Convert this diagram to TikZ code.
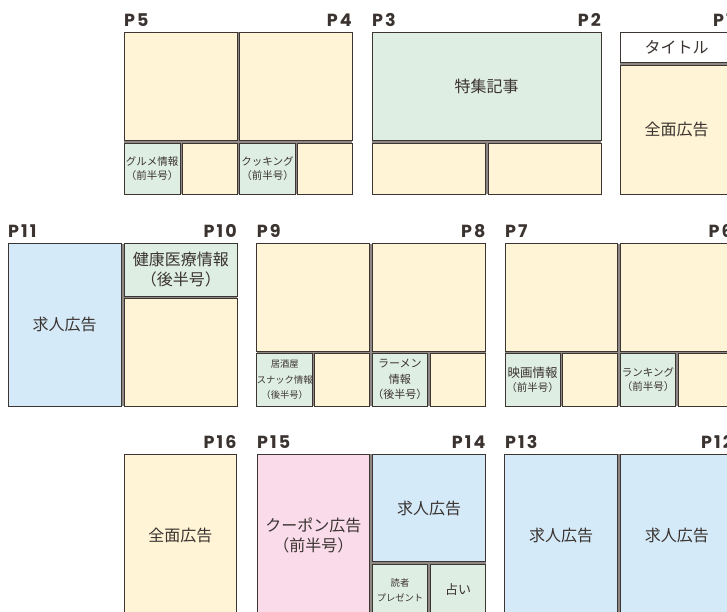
\documentclass[tikz,border=0pt]{standalone}
\usepackage{fontspec}
\setmainfont{Noto Sans CJK JP}
\newfontfamily\pagefont{Poppins}[Numbers=Monospaced, LetterSpace=12]
\usetikzlibrary{positioning}

\definecolor{ink}{HTML}{3A3330}
\definecolor{edge}{HTML}{3C3532}
\definecolor{gapgray}{HTML}{8E8885}
\definecolor{cream}{HTML}{FFF4D6}
\definecolor{mint}{HTML}{DFEEE2}
\definecolor{sky}{HTML}{D4EAF8}
\definecolor{blush}{HTML}{F9DBEA}

\tikzset{
  box/.style={draw=edge, line width=0.8pt, anchor=north west, inner sep=0pt,
    outer sep=0pt, align=center, text=ink},
  big/.style={font=\fontsize{16}{20}\selectfont},
  small/.style={font=\fontsize{10.5}{13.5}\selectfont},
  pagelabel/.style={font=\pagefont\bfseries\fontsize{17.5}{18}\selectfont,
    text=ink, inner sep=0pt},
}

\begin{document}
\begin{tikzpicture}[x=1pt, y=-1pt]
    \useasboundingbox (0,0) rectangle (727,612);
    \clip (0,0) rectangle (727,612);

    % gaps between the boxes of a spread
    \fill[gapgray] (124,32) rectangle (352,194);
    \fill[gapgray] (372,32) rectangle (601,194);
    \fill[gapgray] (620,32) rectangle (733,194);
    \fill[gapgray] (8,243.5) rectangle (237,406);
    \fill[gapgray] (256.7,243.5) rectangle (485.7,406);
    \fill[gapgray] (505,243.5) rectangle (733,406);
    \fill[gapgray] (257,454.3) rectangle (485.7,616);
    \fill[gapgray] (504.7,454.3) rectangle (733,616);

    % first row: P5 to P1
    \node[box, fill=cream, minimum width=113pt, minimum height=108pt] (p5top) at (124,32) {};
    \node[box, fill=mint, small, minimum width=56pt, minimum height=51pt] (p5gourmet) at (124,143) {グルメ情報\\（前半号）};
    \node[box, fill=cream, minimum width=55pt, minimum height=51pt] (p5ad) at (182,143) {};

    \node[box, fill=cream, minimum width=112.5pt, minimum height=108pt] (p4top) at (239.5,32) {};
    \node[box, fill=mint, small, minimum width=56pt, minimum height=51pt] (p4cooking) at (239.5,143) {クッキング\\（前半号）};
    \node[box, fill=cream, minimum width=54.5pt, minimum height=51pt] (p4ad) at (297.5,143) {};

    \node[box, fill=mint, big, minimum width=229pt, minimum height=108pt] (p3feature) at (372,32) {特集記事};
    \node[box, fill=cream, minimum width=113pt, minimum height=51pt] (p3ad) at (372,143) {};
    \node[box, fill=cream, minimum width=113pt, minimum height=51pt] (p2ad) at (488,143) {};

    \node[box, fill=white, big, minimum width=113pt, minimum height=30pt] (p1title) at (620,32) {タイトル};
    \node[box, fill=cream, big, minimum width=113pt, minimum height=129pt] (p1ad) at (620,65) {全面広告};

    % second row: P11 to P6
    \node[box, fill=sky, big, minimum width=113pt, minimum height=162.5pt] (p11jobs) at (8,243.5) {求人広告};
    \node[box, fill=mint, big, minimum width=112.5pt, minimum height=52.5pt] (p10health) at (124.5,243.5) {健康医療情報\\（後半号）};
    \node[box, fill=cream, minimum width=112.5pt, minimum height=108pt] (p10ad) at (124.5,298) {};

    \node[box, fill=cream, minimum width=113pt, minimum height=107.5pt] (p9top) at (256.7,243.5) {};
    \node[box, fill=mint, font=\fontsize{9.3}{15.5}\selectfont, minimum width=56pt, minimum height=52.5pt] (p9bar) at (256.7,353.5) {居酒屋\\スナック情報\\（後半号）};
    \node[box, fill=cream, minimum width=55.4pt, minimum height=52.5pt] (p9ad) at (314.3,353.5) {};

    \node[box, fill=cream, minimum width=113.4pt, minimum height=107.5pt] (p8top) at (372.3,243.5) {};
    \node[box, fill=mint, font=\fontsize{11}{15.5}\selectfont, minimum width=54.7pt, minimum height=52.5pt] (p8ramen) at (372.3,353.5) {ラーメン\\情報\\（後半号）};
    \node[box, fill=cream, minimum width=55.7pt, minimum height=52.5pt] (p8ad) at (430,353.5) {};

    \node[box, fill=cream, minimum width=112.7pt, minimum height=107.5pt] (p7top) at (505,243.5) {};
    \node[box, fill=mint, small, minimum width=55.3pt, minimum height=52.5pt] (p7movie) at (505,353.5) {{\fontsize{12.5}{14}\selectfont 映画情報}\\（前半号）};
    \node[box, fill=cream, minimum width=55.4pt, minimum height=52.5pt] (p7ad) at (562.3,353.5) {};

    \node[box, fill=cream, minimum width=113pt, minimum height=107.5pt] (p6top) at (620.3,243.5) {};
    \node[box, fill=mint, small, minimum width=55.4pt, minimum height=52.5pt] (p6ranking) at (620.3,353.5) {ランキング\\（前半号）};
    \node[box, fill=cream, minimum width=55pt, minimum height=52.5pt] (p6ad) at (678.3,353.5) {};

    % third row: P16 to P12
    \node[box, fill=cream, big, minimum width=112.7pt, minimum height=162pt] (p16ad) at (124,454.3) {全面広告};
    \node[box, fill=blush, big, minimum width=112.7pt, minimum height=162pt] (p15coupon) at (257,454.3) {クーポン広告\\（前半号）};
    \node[box, fill=sky, big, minimum width=113.4pt, minimum height=107.4pt] (p14jobs) at (372.3,454.3) {求人広告};
    \node[box, fill=mint, font=\fontsize{9.3}{14.5}\selectfont, minimum width=55.4pt, minimum height=52pt] (p14gift) at (372.3,564) {読者\\プレゼント};
    \node[box, fill=mint, font=\fontsize{13}{15}\selectfont, minimum width=55.4pt, minimum height=52pt] (p14fortune) at (430.3,564) {占い};
    \node[box, fill=sky, big, minimum width=113pt, minimum height=162pt] (p13jobs) at (504.7,454.3) {求人広告};
    \node[box, fill=sky, big, minimum width=113pt, minimum height=162pt] (p12jobs) at (620.3,454.3) {求人広告};

    % page numbers
    \node[pagelabel, anchor=west] (lp5) at (124,20) {P5};
    \node[pagelabel, anchor=east] (lp4) at (352,20) {P4};
    \node[pagelabel, anchor=west] (lp3) at (372,20) {P3};
    \node[pagelabel, anchor=east] (lp2) at (601,20) {P2};
    \node[pagelabel, anchor=east] (lp1) at (733,20) {P1};

    \node[pagelabel, anchor=west] (lp11) at (8,231) {P11};
    \node[pagelabel, anchor=east] (lp10) at (237,231) {P10};
    \node[pagelabel, anchor=west] (lp9) at (256.7,231) {P9};
    \node[pagelabel, anchor=east] (lp8) at (485.7,231) {P8};
    \node[pagelabel, anchor=west] (lp7) at (505,231) {P7};
    \node[pagelabel, anchor=east] (lp6) at (733,231) {P6};

    \node[pagelabel, anchor=east] (lp16) at (236.7,442) {P16};
    \node[pagelabel, anchor=west] (lp15) at (257,442) {P15};
    \node[pagelabel, anchor=east] (lp14) at (485.7,442) {P14};
    \node[pagelabel, anchor=west] (lp13) at (505,442) {P13};
    \node[pagelabel, anchor=east] (lp12) at (733,442) {P12};
\end{tikzpicture}
\end{document}
